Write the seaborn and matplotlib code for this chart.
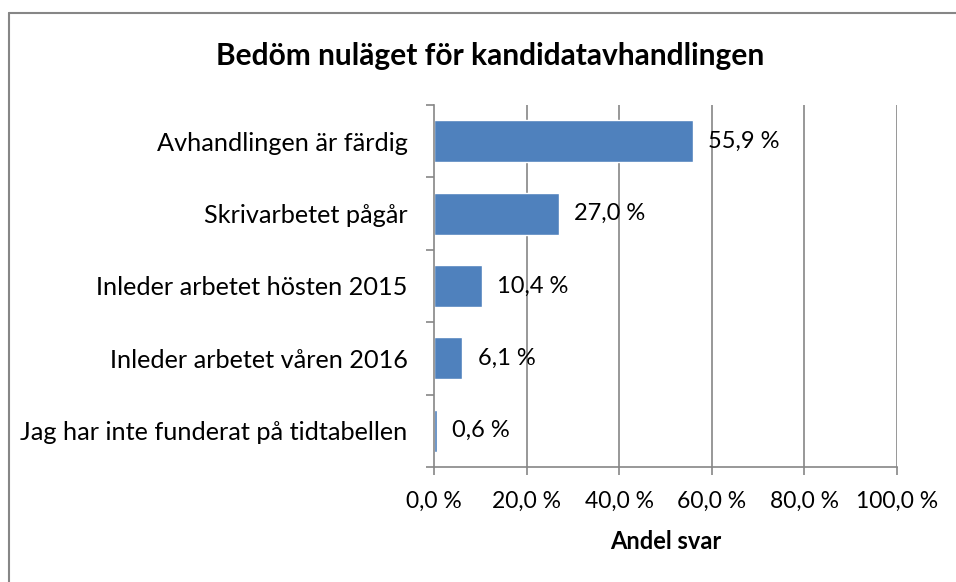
import matplotlib
matplotlib.use("Agg")
import matplotlib.pyplot as plt
import seaborn as sns
import pandas as pd
from matplotlib.lines import Line2D
from matplotlib.ticker import FixedLocator

# data
kategorier = [
    "Avhandlingen är färdig",
    "Skrivarbetet pågår",
    "Inleder arbetet hösten 2015",
    "Inleder arbetet våren 2016",
    "Jag har inte funderat på tidtabellen",
]
andel = [55.9, 27.0, 10.4, 6.1, 0.6]
xticks = [0, 20, 40, 60, 80, 100]

df = pd.DataFrame({"kategori": kategorier, "andel": andel})

sns.set_style("white")
plt.rcParams["font.family"] = ["Lato", "DejaVu Sans"]
plt.rcParams["text.color"] = "black"
plt.rcParams["xtick.color"] = "black"
plt.rcParams["ytick.color"] = "black"
plt.rcParams["axes.labelcolor"] = "black"

gra = "#868686"
bla = "#4F81BD"

fig = plt.figure(figsize=(9.56, 5.82), dpi=100)
ax = fig.add_axes([0.454, 0.1976, 0.484, 0.622])

sns.barplot(data=df, x="andel", y="kategori", orient="h", color=bla,
            width=0.58, ax=ax, saturation=1)

ax.set_xlim(0, 100)
ax.set_ylim(4.5, -0.5)
ax.set_xticks(xticks)
ax.set_xticklabels([f"{v:.1f} %".replace(".", ",") for v in xticks], fontsize=16.5)
ax.tick_params(axis="x", length=6, color=gra, width=1.2, pad=11, direction="out", bottom=True)
ax.tick_params(axis="y", which="major", length=0, labelsize=18.2, pad=19)
ax.yaxis.set_minor_locator(FixedLocator([i - 0.5 for i in range(len(kategorier) + 1)]))
ax.tick_params(axis="y", which="minor", length=6, color=gra, width=1.2, left=True)

for v in xticks[1:]:
    ax.axvline(v, color=gra, lw=1.2, zorder=0)

for s in ["top", "right"]:
    ax.spines[s].set_visible(False)
for s in ["left", "bottom"]:
    ax.spines[s].set_color(gra)
    ax.spines[s].set_linewidth(1.2)

for i, v in enumerate(andel):
    ax.annotate(f"{v:.1f} %".replace(".", ","), xy=(v, i), xytext=(11, 0),
                textcoords="offset points", va="center", ha="left", fontsize=17)

ax.set_ylabel("")
ax.set_xlabel("Andel svar", fontsize=17, fontweight="bold", labelpad=13)

fig.text(0.513, 0.903, "Bedöm nuläget för kandidatavhandlingen", ha="center", va="center",
         fontsize=21.5, fontweight="bold")

# outer chart border (only top and left edges visible)
fig.add_artist(Line2D([9 / 956, 1], [1 - 13 / 582, 1 - 13 / 582], color=gra, lw=1.5,
                      transform=fig.transFigure))
fig.add_artist(Line2D([9 / 956, 9 / 956], [0, 1 - 13 / 582], color=gra, lw=1.5,
                      transform=fig.transFigure))

fig.savefig("out.png", dpi=100)
